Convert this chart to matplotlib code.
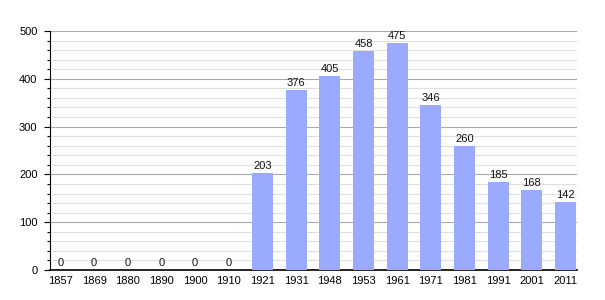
import matplotlib
matplotlib.use("Agg")
import matplotlib.pyplot as plt
import numpy as np

years = ["1857", "1869", "1880", "1890", "1900", "1910", "1921", "1931",
         "1948", "1953", "1961", "1971", "1981", "1991", "2001", "2011"]
population = [0, 0, 0, 0, 0, 0, 203, 376, 405, 458, 475, 346, 260, 185, 168, 142]

plt.rcParams['font.family'] = ['Liberation Sans', 'DejaVu Sans']

fig = plt.figure(figsize=(6.05, 3.0), dpi=100)
ax = fig.add_axes([50/605, 30/300, 527/605, 239/300])

x = np.arange(len(years))
ax.bar(x, population, width=0.63, color="#99aaff", zorder=3)
for xi, v in zip(x, population):
    ax.text(xi, v + 4, str(v), ha="center", va="bottom", fontsize=8, color="#111111", zorder=4)

ax.set_xlim(-0.31, len(years) - 0.66)
ax.set_ylim(0, 500)
ax.set_xticks(x)
ax.set_xticklabels(years)
ax.set_yticks(range(0, 501, 100))
ax.set_yticks(range(0, 501, 20), minor=True)
ax.grid(axis="y", which="major", color="#aaaaaa", linewidth=0.8, zorder=1)
ax.grid(axis="y", which="minor", color="#e0e0e0", linewidth=0.8, zorder=0)
ax.tick_params(axis="x", length=0, labelsize=8, pad=4)
ax.tick_params(axis="y", which="major", length=4, labelsize=8, width=0.8, pad=5)
ax.tick_params(axis="y", which="minor", length=2.5, width=0.8)
for s in ["top", "right"]:
    ax.spines[s].set_visible(False)
ax.spines["left"].set_color("black")
ax.spines["bottom"].set_color("black")
ax.spines["bottom"].set_linewidth(1.2)

fig.savefig("out.png", dpi=100)
